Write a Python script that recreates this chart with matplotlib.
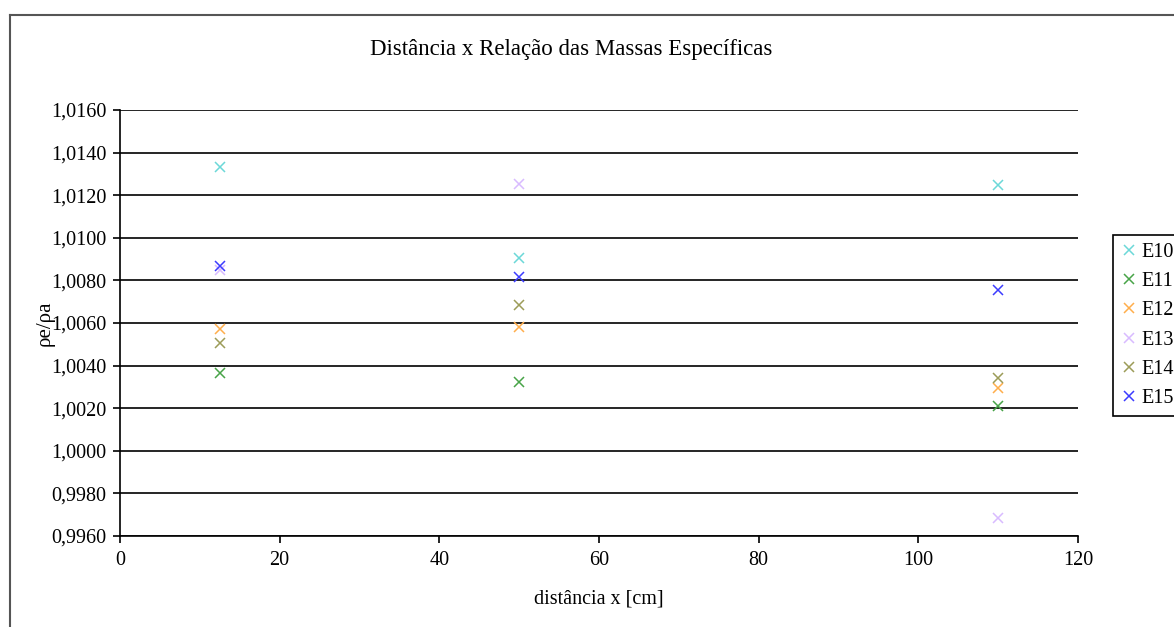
import matplotlib.pyplot as plt
from matplotlib.lines import Line2D
from matplotlib.ticker import FuncFormatter, MultipleLocator

plt.rcParams['font.family'] = ['Liberation Serif', 'DejaVu Serif']

# distância x [cm]
distancias = [12.5, 50, 110]

series = ['E10', 'E11', 'E12', 'E13', 'E14', 'E15']
e10 = [1.01332, 1.00905, 1.01248]
e11 = [1.00365, 1.00323, 1.00210]
e12 = [1.00572, 1.00581, 1.00295]
e13 = [1.00849, 1.01253, 0.99685]
e14 = [1.00506, 1.00685, 1.00342]
e15 = [1.00868, 1.00816, 1.00755]
valores = [e10, e11, e12, e13, e14, e15]
cores = ['#6cd8d8', '#48a448', '#ffae4c', '#d9bbff', '#9c9c58', '#3c3cff']

W, H = 1174, 627
fig = plt.figure(figsize=(W / 100, H / 100), dpi=100)

# plot area in pixels: left 120, right 1078, top 110, bottom 536
ax = fig.add_axes([120 / W, (H - 536) / H, 958 / W, 426 / H])

for nome, ys, cor in zip(series, valores, cores):
    ax.plot(distancias, ys, linestyle='none', marker='x', markersize=7,
            markeredgewidth=1.1, color=cor, label=nome, zorder=3)

ax.set_xlim(0, 120)
ax.set_ylim(0.996, 1.016)
ax.xaxis.set_major_locator(MultipleLocator(20))
ax.yaxis.set_major_locator(MultipleLocator(0.002))
ax.yaxis.set_major_formatter(FuncFormatter(lambda v, p: f'{v:.4f}'.replace('.', ',')))

ax.grid(axis='y', color='black', linewidth=1.2)
ax.set_axisbelow(True)
for s in ['top', 'right']:
    ax.spines[s].set_visible(False)
for s in ['left', 'bottom']:
    ax.spines[s].set_color('black')
    ax.spines[s].set_linewidth(1.2)
ax.tick_params(direction='out', length=5, width=1.2, labelsize=14.5, colors='black')
ax.tick_params(axis='y', pad=5)
ax.tick_params(axis='x', pad=6)

fig.text(571 / W, 1 - 50 / H, 'Distância x Relação das Massas Específicas',
         fontsize=16.5, ha='center', va='center')
ax.set_xlabel('distância x [cm]', fontsize=14.5, labelpad=14)
ax.set_ylabel('ρe/ρa', fontsize=15)
ax.yaxis.set_label_coords((55 - 120) / 958, 0.5)

leg = fig.legend(loc='upper left', bbox_to_anchor=(1113 / W, 1 - 235 / H),
                 fontsize=14.5, handlelength=0.8, handletextpad=0.2,
                 borderpad=0.4, labelspacing=0.5, fancybox=False,
                 edgecolor='black', framealpha=1, borderaxespad=0)
leg.get_frame().set_linewidth(1.2)

# outer chart border
fig.add_artist(Line2D([10 / W, 10 / W], [0, 1 - 15 / H], color='#555555', lw=1.5))
fig.add_artist(Line2D([10 / W, 1], [1 - 15 / H, 1 - 15 / H], color='#555555', lw=1.5))

fig.savefig('out.png', dpi=100)
